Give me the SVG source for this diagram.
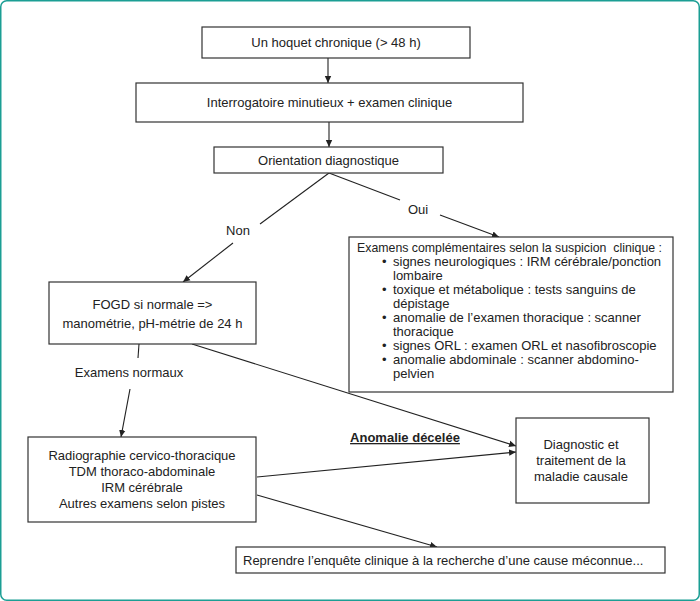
<svg xmlns="http://www.w3.org/2000/svg" width="700" height="601" viewBox="0 0 700 601">
<style>
text{font-family:"Liberation Sans",Arial,sans-serif;font-size:13px;fill:#222}
.c{text-anchor:middle}
.box{fill:#fff;stroke:#333;stroke-width:1.2}
.ln{stroke:#222;stroke-width:1.1;fill:none}
.b{font-weight:bold;text-decoration:underline}
</style>
<defs>
<marker id="ah" markerWidth="8" markerHeight="8" refX="7" refY="4" orient="auto" markerUnits="userSpaceOnUse">
<path d="M0,0.8 L7,4 L0,7.2 Z" fill="#222"/>
</marker>
</defs>
<rect x="0.75" y="0.75" width="698.5" height="599.5" rx="6" fill="#fff" stroke="#1b9e94" stroke-width="1.5"/>
<g id="connectors">
<line class="ln" x1="328" y1="58" x2="328" y2="83" marker-end="url(#ah)"/>
<line class="ln" x1="329" y1="122" x2="329" y2="147" marker-end="url(#ah)"/>
<line class="ln" x1="329" y1="173" x2="260" y2="224"/>
<line class="ln" x1="233" y1="243" x2="183" y2="282" marker-end="url(#ah)"/>
<line class="ln" x1="329" y1="173" x2="400" y2="200"/>
<line class="ln" x1="440" y1="215" x2="499" y2="237" marker-end="url(#ah)"/>
<line class="ln" x1="139" y1="344" x2="138" y2="358"/>
<line class="ln" x1="130" y1="389" x2="121" y2="437" marker-end="url(#ah)"/>
<line class="ln" x1="192" y1="344" x2="516" y2="446" marker-end="url(#ah)"/>
<line class="ln" x1="257" y1="477" x2="516" y2="452" marker-end="url(#ah)"/>
<line class="ln" x1="257" y1="495" x2="437" y2="547" marker-end="url(#ah)"/>
<text class="c" x="238" y="235">Non</text>
<text class="c" x="418" y="214">Oui</text>
<text class="c" x="129" y="377">Examens normaux</text>
<text class="c b" x="405" y="442">Anomalie décelée</text>
</g>
<g id="n1"><rect class="box" x="202" y="27" width="268" height="31"/><text class="c" x="336" y="47">Un hoquet chronique (&gt; 48 h)</text></g>
<g id="n2"><rect class="box" x="136" y="83" width="387" height="39"/><text class="c" x="329.5" y="107">Interrogatoire minutieux + examen clinique</text></g>
<g id="n3"><rect class="box" x="214" y="147" width="229" height="26"/><text class="c" x="328.5" y="165">Orientation diagnostique</text></g>
<g id="n4"><rect class="box" x="49" y="282" width="207" height="62"/><text class="c" x="152.5" y="309">FOGD si normale =&gt;</text><text class="c" x="152.5" y="328">manométrie, pH-métrie de 24 h</text></g>
<g id="n5"><rect class="box" x="349" y="237" width="324" height="155"/>
<text x="357" y="252" textLength="305" lengthAdjust="spacingAndGlyphs">Examens complémentaires selon la suspicion&#160; clinique :</text>
<text x="382" y="266">•</text><text x="393" y="266">signes neurologiques : IRM cérébrale/ponction</text>
<text x="393" y="280">lombaire</text>
<text x="382" y="294">•</text><text x="393" y="294">toxique et métabolique : tests sanguins de</text>
<text x="393" y="308">dépistage</text>
<text x="382" y="322">•</text><text x="393" y="322">anomalie de l’examen thoracique : scanner</text>
<text x="393" y="336">thoracique</text>
<text x="382" y="350">•</text><text x="393" y="350">signes ORL : examen ORL et nasofibroscopie</text>
<text x="382" y="364">•</text><text x="393" y="364">anomalie abdominale : scanner abdomino-</text>
<text x="393" y="378">pelvien</text>
</g>
<g id="n6"><rect class="box" x="28" y="437" width="228" height="85"/>
<text class="c" x="142" y="460">Radiographie cervico-thoracique</text>
<text class="c" x="142" y="476">TDM thoraco-abdominale</text>
<text class="c" x="142" y="492">IRM cérébrale</text>
<text class="c" x="142" y="508">Autres examens selon pistes</text>
</g>
<g id="n7"><rect class="box" x="516" y="418" width="133" height="85"/>
<text class="c" x="581" y="449">Diagnostic et</text>
<text class="c" x="581" y="465">traitement de la</text>
<text class="c" x="581" y="481">maladie causale</text>
</g>
<g id="n8"><rect class="box" x="236" y="547" width="429" height="26"/><text x="243" y="565">Reprendre l’enquête clinique à la recherche d’une cause méconnue...</text></g>
</svg>
